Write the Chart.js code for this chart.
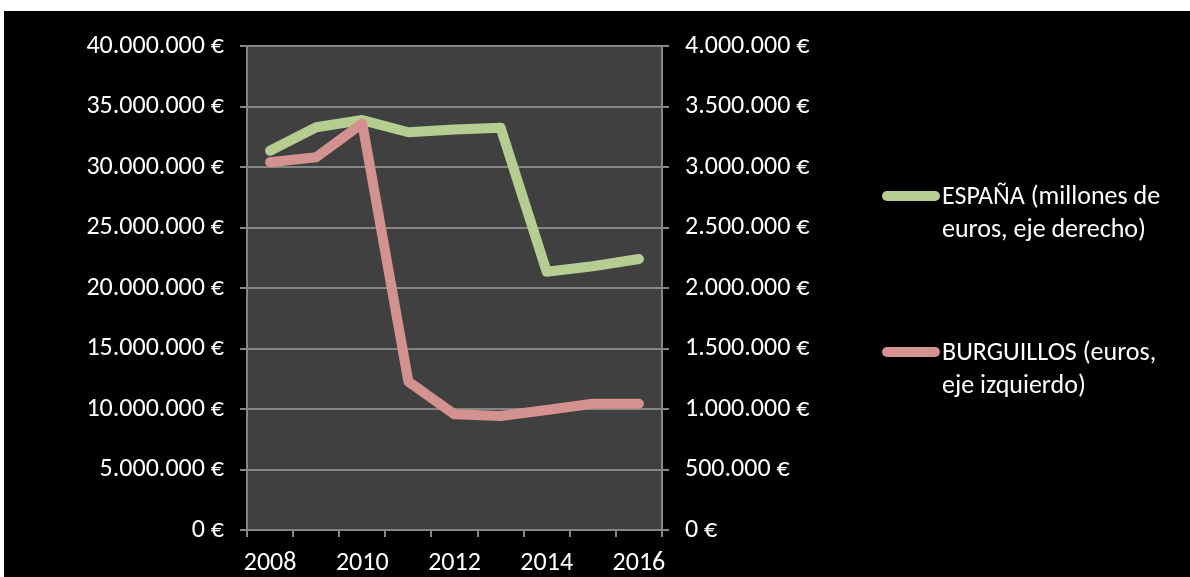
<!DOCTYPE html>
<html lang="es">
<head>
    <meta charset="UTF-8">
    <title>España vs Burguillos</title>
    <style>
        body {
            margin: 0;
            padding: 0;
            background: #ffffff;
        }

        .chart-box {
            position: absolute;
            left: 4px;
            top: 11px;
            width: 1186px;
            height: 566px;
            background: #000000;
        }
    </style>
</head>
<body>
    <div class="chart-box">
        <canvas id="lineChart"></canvas>
    </div>

    <script src="https://cdn.jsdelivr.net/npm/chart.js"></script>
    <script>
        // data
        const years = ['2008', '2009', '2010', '2011', '2012', '2013', '2014', '2015', '2016'];
        const espana = [3135000, 3328000, 3388000, 3287000, 3310000, 3325000, 2135000, 2180000, 2240000];
        const burguillos = [30400000, 30800000, 33600000, 12260000, 9560000, 9420000, 9920000, 10440000, 10440000];
        const espanaLegend = ['ESPAÑA (millones de', 'euros, eje derecho)'];
        const burguillosLegend = ['BURGUILLOS (euros,', 'eje izquierdo)'];

        const FONT = { family: 'Carlito, Lato, sans-serif', size: 26 };
        const GRID = '#858585';

        function euros(v) {
            return String(v).replace(/\B(?=(\d{3})+(?!\d))/g, '.') + ' €';
        }

        const plotBackground = {
            id: 'plotBackground',
            beforeDraw(chart) {
                const { ctx, chartArea } = chart;
                ctx.save();
                ctx.fillStyle = '#404040';
                ctx.fillRect(chartArea.left, chartArea.top, chartArea.width, chartArea.height);
                ctx.restore();
            }
        };

        // legend on the right, with wrapped text
        const sideLegend = {
            id: 'sideLegend',
            afterDraw(chart) {
                const ctx = chart.ctx;
                const items = [
                    { ds: chart.data.datasets[0], y: 185 },
                    { ds: chart.data.datasets[1], y: 341 }
                ];
                ctx.save();
                ctx.font = FONT.size + 'px ' + FONT.family;
                ctx.textBaseline = 'middle';
                ctx.fillStyle = '#ffffff';
                items.forEach(item => {
                    ctx.strokeStyle = item.ds.borderColor;
                    ctx.lineWidth = 10;
                    ctx.lineCap = 'round';
                    ctx.beginPath();
                    ctx.moveTo(883, item.y);
                    ctx.lineTo(931, item.y);
                    ctx.stroke();
                    item.ds.legendLines.forEach((line, i) => {
                        ctx.fillText(line, 938, item.y + 1 + i * 33);
                    });
                });
                ctx.restore();
            }
        };

        const ctx = document.getElementById('lineChart').getContext('2d');
        new Chart(ctx, {
            type: 'line',
            data: {
                labels: years,
                datasets: [
                    {
                        label: espanaLegend.join(' '),
                        legendLines: espanaLegend,
                        data: espana,
                        yAxisID: 'y1',
                        borderColor: '#b5cd90',
                        order: 2
                    },
                    {
                        label: burguillosLegend.join(' '),
                        legendLines: burguillosLegend,
                        data: burguillos,
                        yAxisID: 'y',
                        borderColor: '#d39190',
                        order: 1
                    }
                ]
            },
            options: {
                responsive: true,
                maintainAspectRatio: false,
                animation: false,
                layout: {
                    padding: { top: 35, right: 368, bottom: 0, left: 0 }
                },
                elements: {
                    line: {
                        borderWidth: 10,
                        tension: 0,
                        borderCapStyle: 'round',
                        borderJoinStyle: 'round'
                    },
                    point: { radius: 0, hoverRadius: 0 }
                },
                plugins: {
                    legend: { display: false },
                    tooltip: { enabled: false }
                },
                scales: {
                    x: {
                        offset: true,
                        afterFit(scale) { scale.height = 47; },
                        grid: {
                            offset: true,
                            drawOnChartArea: false,
                            tickLength: 7,
                            tickColor: GRID,
                            lineWidth: 2
                        },
                        border: { color: GRID, width: 2 },
                        ticks: {
                            color: '#ffffff',
                            font: FONT,
                            padding: 11,
                            autoSkip: false,
                            maxRotation: 0,
                            callback(val, index) {
                                return index % 2 === 0 ? this.getLabelForValue(val) : '';
                            }
                        }
                    },
                    y: {
                        position: 'left',
                        min: 0,
                        max: 40000000,
                        afterFit(scale) { scale.width = 243; },
                        grid: {
                            color: GRID,
                            lineWidth: 2,
                            tickLength: 7
                        },
                        border: { color: GRID, width: 2 },
                        ticks: {
                            stepSize: 5000000,
                            color: '#ffffff',
                            font: FONT,
                            padding: 16,
                            callback: v => euros(v)
                        }
                    },
                    y1: {
                        position: 'right',
                        min: 0,
                        max: 4000000,
                        afterFit(scale) { scale.width = 160; },
                        grid: {
                            drawOnChartArea: false,
                            color: GRID,
                            lineWidth: 2,
                            tickLength: 7
                        },
                        border: { color: GRID, width: 2 },
                        ticks: {
                            stepSize: 500000,
                            color: '#ffffff',
                            font: FONT,
                            padding: 16,
                            callback: v => euros(v)
                        }
                    }
                }
            },
            plugins: [plotBackground, sideLegend]
        });
    </script>
</body>
</html>
